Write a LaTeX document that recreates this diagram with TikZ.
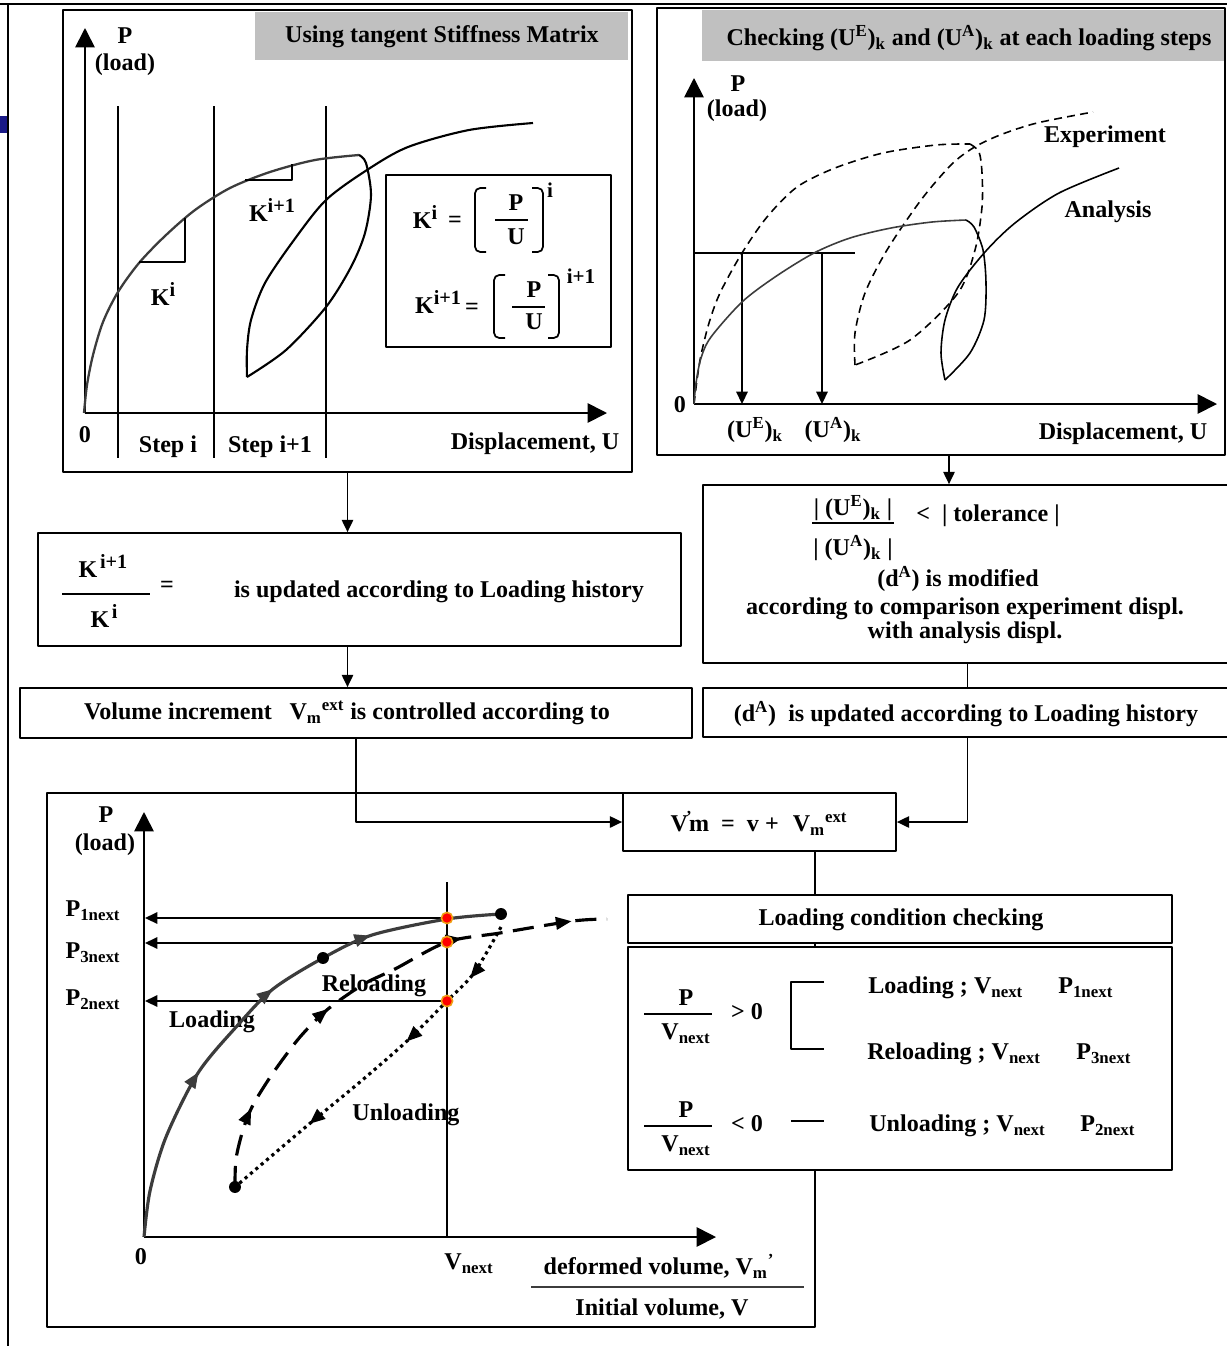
\documentclass[tikz,border=0pt]{standalone}
\usepackage{fontspec}
\setmainfont{Liberation Serif}
\usetikzlibrary{arrows.meta,fit,decorations.markings}
\definecolor{Cg}{RGB}{192,192,192}
\definecolor{Cd}{RGB}{60,60,60}
\definecolor{Cr}{RGB}{255,0,0}
\definecolor{Co}{RGB}{240,160,20}
\definecolor{Cn}{RGB}{25,25,135}
\newcommand{\dnx}[1]{\textsubscript{#1}}
\newcommand{\upx}[1]{\textsuperscript{#1}}
\newcommand{\kup}[1]{\raisebox{0.75ex}{\fontsize{11.5pt}{12pt}\selectfont #1}}
\tikzset{
  box/.style={draw,line width=1pt,inner sep=0pt,fill=white},
  head/.style={fill=Cg,inner sep=0pt},
  txt/.style={inner sep=0pt},
  conn/.style={line width=0.9pt,-{Triangle[length=7pt,width=6.5pt]}},
  axis/.style={line width=1pt,-{Triangle[length=11pt,width=11pt]}},
  midarrows/.style={postaction={decorate,decoration={markings,#1}}},
  /pgf/decoration/arrowat/.style={mark=at position #1 with {\arrow{Triangle[length=9pt,width=7pt]}}}
}
\begin{document}
\begin{tikzpicture}[x=0.02cm,y=-0.02cm,font=\bfseries\fontsize{13.7pt}{15pt}\selectfont,line join=round]
    \useasboundingbox (0,0) rectangle (1227,1346);
    \draw[line width=1.4pt] (0,4) -- (1227,4);
    \draw[line width=1.2pt] (8,4) -- (8,1346);
    \fill[Cn] (0,116) rectangle (7,133);

    \node (tl) [box, fit={(63,10) (632,472)}] {};
    \node (tlhead) [head, fit={(255,12) (628,60)}] {};
    \node (tlheadtxt) [txt] at (442,37) {Using tangent Stiffness Matrix};
    \draw[axis] (85,413) -- (85,28);
    \draw[axis] (85,413) -- (607,413);
    \node (tlP) [txt] at (125,36) {P};
    \node (tlload) [txt] at (125,65) {(load)};
    \node (tlzero) [txt] at (85,435) {0};
    \foreach \xx in {118,214,326}
      \draw[line width=1pt] (\xx,106) -- (\xx,458);
    \node (stepa) [txt] at (168,447) {Step i};
    \node (stepb) [txt] at (270,447) {Step i+1};
    \node (tldisp) [txt] at (535,444) {Displacement, U};
    \draw[Cd,line width=1.3pt] plot[smooth] coordinates {(84,413) (87,385) (93,355) (103,322)
      (118,292) (139,263) (165,236) (195,210) (230,188) (270,172) (315,160) (359,155)};
    \draw[line width=1.2pt] plot[smooth] coordinates {(359,155) (366,163) (371,195)
      (365,233) (351,267) (326,307) (286,350) (247,377)};
    \draw[line width=1.2pt] plot[smooth] coordinates {(247,377) (247,350) (251,320)
      (265,283) (294,240) (326,200) (367,170) (408,147) (469,130) (533,123)};
    \draw[line width=1pt] (139,262) -- (185,262) -- (185,218);
    \draw[line width=1pt] (245,180) -- (292,180) -- (292,164);
    \node (ki) [txt] at (163,294) {K\kup{i}};
    \node (kii) [txt] at (272,210) {K\kup{i+1}};

    \node (fbox) [box, fit={(386,175) (611,347)}] {};
    \node (fka) [txt] at (425,217) {K\kup{i}};
    \node (fea) [txt] at (455,222) {=};
    \draw[line width=1pt,rounded corners=3pt] (486,188) -- (475,188) -- (475,252) -- (486,252);
    \draw[line width=1pt,rounded corners=3pt] (532,188) -- (543,188) -- (543,252) -- (532,252);
    \node (fpa) [txt] at (516,203) {P};
    \draw[line width=0.9pt] (495,220) -- (528,220);
    \node (fua) [txt] at (516,237) {U};
    \node (fsa) [txt,font=\bfseries\fontsize{12pt}{13pt}\selectfont] at (550,190) {i};
    \node (fkb) [txt] at (438,302) {K\kup{i+1}};
    \node (feb) [txt] at (472,309) {=};
    \draw[line width=1pt,rounded corners=3pt] (505,275) -- (494,275) -- (494,338) -- (505,338);
    \draw[line width=1pt,rounded corners=3pt] (548,275) -- (559,275) -- (559,338) -- (548,338);
    \node (fpb) [txt] at (534,290) {P};
    \draw[line width=0.9pt] (512,307) -- (545,307);
    \node (fub) [txt] at (534,322) {U};
    \node (fsb) [txt,font=\bfseries\fontsize{12pt}{13pt}\selectfont] at (581,276) {i+1};

    \node (tr) [box, fit={(657,8) (1225,455)}] {};
    \node (trhead) [head, fit={(702,10) (1224,61)}] {};
    \node (trheadtxt) [txt] at (969,38) {Checking (U\upx{E})\dnx{k} and (U\upx{A})\dnx{k} at each loading steps};
    \draw[axis] (694,404) -- (694,78);
    \draw[axis] (694,404) -- (1217,404);
    \node (trP) [txt] at (738,84) {P};
    \node (trload) [txt] at (737,111) {(load)};
    \node (trzero) [txt] at (680,405) {0};
    \node (trexp) [txt] at (1105,137) {Experiment};
    \node (trana) [txt] at (1108,212) {Analysis};
    \node (trdisp) [txt] at (1123,434) {Displacement, U};
    \node (true) [txt] at (755,430) {(U\upx{E})\dnx{k}};
    \node (trua) [txt] at (833,430) {(U\upx{A})\dnx{k}};
    \draw[line width=1pt] (694,253) -- (855,253);
    \draw[conn] (742,253) -- (742,404);
    \draw[conn] (822,253) -- (822,404);
    \draw[line width=0.9pt,dash pattern=on 4.5pt off 3pt] plot[smooth] coordinates {(694,404)
      (697,380) (701,355) (709,323) (720,293) (742,253) (767,217) (797,187) (835,168) (883,153)
      (936,145) (970,144)};
    \draw[line width=0.9pt,dash pattern=on 4.5pt off 3pt] plot[smooth] coordinates {(970,144)
      (979,152) (982,173) (982,207) (975,250) (958,293) (910,340) (855,365)};
    \draw[line width=0.9pt,dash pattern=on 4.5pt off 3pt] plot[smooth] coordinates {(855,365)
      (855,333) (865,293) (887,250) (921,200) (951,165) (973,148) (1000,135) (1037,123) (1093,112)};
    \draw[Cd,line width=0.9pt] plot[smooth] coordinates {(694,404) (696,383) (701,358) (711,337)
      (742,302) (775,277) (814,253) (850,238) (891,228) (932,222) (966,220)};
    \draw[line width=0.9pt] plot[smooth] coordinates {(966,220) (974,227) (983,250) (986,283)
      (984,320) (970,353) (945,380)};
    \draw[line width=0.9pt] plot[smooth] coordinates {(945,380) (941,353) (945,320) (958,287)
      (985,252) (1015,223) (1059,193) (1119,168)};

    \node (chart) [box, fit={(47,793) (815,1327)}] {};

    \node (kbox) [box, fit={(38,533) (681,646)}] {};
    \draw[conn] (tl.south) -- (tl.south |- kbox.north);
    \node (kup) [txt] at (103,566) {K\kern1.5pt\kup{i+1}};
    \draw[line width=1pt] (62,594) -- (150,594);
    \node (kdn) [txt] at (104,616) {K\kern1.5pt\kup{i}};
    \node (keq) [txt] at (167,587) {=};
    \node (ktxt) [txt] at (439,592) {is updated according to Loading history};
    \node (vbox) [box, fit={(20,688) (692,738)}] {};
    \draw[conn] (kbox.south -| tl.south) -- (vbox.north -| tl.south);
    \node (vtxt) [txt] at (347,713) {Volume increment\hspace{10pt}V\dnx{m}\upx{ext} is controlled according to};

    \node (tol) [box, fit={(703,485) (1232,663)}] {};
    \coordinate (trout) at ([xshift=0.16cm]tr.south);
    \draw[conn] (trout) -- (trout |- tol.north);
    \node (tolnum) [txt] at (853,508) {\textbar\ (U\upx{E})\dnx{k} \textbar};
    \draw[line width=0.9pt] (812,523) -- (894,523);
    \node (tolden) [txt] at (853,548) {\textbar\ (U\upx{A})\dnx{k} \textbar};
    \node (toltxt) [txt] at (988,516) {<\ \ \textbar\ tolerance \textbar};
    \node (dmod) [txt] at (958,579) {(d\upx{A}) is modified};
    \node (acc) [txt,align=center,font=\bfseries\fontsize{13.7pt}{10.8pt}\selectfont] at (965,621)
      {according to comparison experiment displ.\\with analysis displ.};
    \node (dvbox) [box, fit={(703,688) (1232,737)}] {};
    \draw[line width=1pt] (tol.south) -- (dvbox.north);
    \node (dvtxt) [txt] at (966,714) {(d\upx{A})\ \ is updated according to Loading history};

    \node (vm) [box, fit={(623,793) (896,851)}] {};
    \node (vmtxt) [txt] at (759,823) {V\kern-1pt\upx{'}\kern-2pt m\ \ =\ \ v +\hspace{8pt}V\dnx{m}\upx{ext}};
    \draw[conn] (vbox.south) |- (vm.west);
    \draw[conn] (dvbox.south) |- (vm.east);

    \node (lchead) [box, fit={(628,895) (1172,943)}] {};
    \node (lcheadtxt) [txt] at (901,920) {Loading condition checking};
    \node (lcbody) [box, fit={(628,947) (1172,1170)}] {};
    \node (pa) [txt] at (686,998) {P};
    \draw[line width=1pt] (644,1014) -- (712,1014);
    \node (va) [txt] at (686,1034) {V\dnx{next}};
    \node (gta) [txt] at (747,1012) {> 0};
    \draw[line width=1pt] (824,982) -- (791,982) -- (791,1049) -- (824,1049);
    \node (ld) [txt,anchor=west] at (868,988) {Loading ; V\dnx{next}};
    \node (ldp) [txt,anchor=west] at (1058,988) {P\dnx{1next}};
    \node (rl) [txt,anchor=west] at (867,1054) {Reloading ; V\dnx{next}};
    \node (rlp) [txt,anchor=west] at (1076,1054) {P\dnx{3next}};
    \node (pb) [txt] at (686,1110) {P};
    \draw[line width=1pt] (644,1126) -- (712,1126);
    \node (vb) [txt] at (686,1146) {V\dnx{next}};
    \node (ltb) [txt] at (747,1124) {< 0};
    \draw[line width=1pt] (791,1121) -- (824,1121);
    \node (ul) [txt,anchor=west] at (869,1126) {Unloading ; V\dnx{next}};
    \node (ulp) [txt,anchor=west] at (1080,1126) {P\dnx{2next}};

    \draw[axis] (144,1237) -- (144,812);
    \draw[axis] (144,1237) -- (716,1237);
    \node (cP) [txt] at (106,815) {P};
    \node (cload) [txt] at (105,845) {(load)};
    \node (czero) [txt] at (141,1257) {0};
    \node (cvn) [txt] at (469,1264) {V\dnx{next}};
    \draw[line width=1pt] (447,882) -- (447,1237);
    \foreach \yy in {918,943,1001}
      \draw[conn] (447,\yy) -- (145,\yy);
    \node (pone) [txt] at (93,911) {P\dnx{1next}};
    \node (pthree) [txt] at (93,953) {P\dnx{3next}};
    \node (ptwo) [txt] at (93,1000) {P\dnx{2next}};
    \node (cdef) [txt] at (659,1266) {deformed volume, V\dnx{m}\upx{'}};
    \draw[Cd,line width=0.9pt] (531,1287) -- (804,1287);
    \node (cinit) [txt] at (662,1309) {Initial volume, V};
    \node (creload) [txt] at (374,986) {Reloading};
    \node (cloading) [txt] at (212,1022) {Loading};
    \node (cunload) [txt] at (406,1115) {Unloading};
    \draw[Cd,line width=1.8pt,midarrows={arrowat=0.33,arrowat=0.54,arrowat=0.75}] plot[smooth] coordinates {(144,1237)
      (150,1191) (166,1137) (198,1073) (237,1026) (273,989) (323,958) (372,935) (447,919) (501,914)};
    \draw[line width=1.8pt,dash pattern=on 12pt off 6pt,midarrows={arrowat=0.16,arrowat=0.41,arrowat=0.71,arrowat=0.93}]
      plot[smooth] coordinates {(235,1187) (236,1159) (243,1130) (253,1105) (273,1073) (300,1037)
      (328,1009) (364,984) (395,969) (447,942) (500,933) (573,921) (607,919)};
    \draw[line width=1.8pt,dash pattern=on 1.8pt off 2.2pt,midarrows={arrowat=0.16,arrowat=0.4,arrowat=0.74}]
      plot[smooth] coordinates {(501,927) (474,973) (447,1001) (407,1041) (360,1082) (308,1125) (235,1187)};
    \foreach \p in {(235,1187),(323,958),(501,914)}
      \fill \p circle (3.4pt);
    \foreach \yy in {918,942,1001}
      \filldraw[fill=Cr,draw=Co,line width=0.9pt] (447,\yy) circle (3.2pt);
\end{tikzpicture}
\end{document}
